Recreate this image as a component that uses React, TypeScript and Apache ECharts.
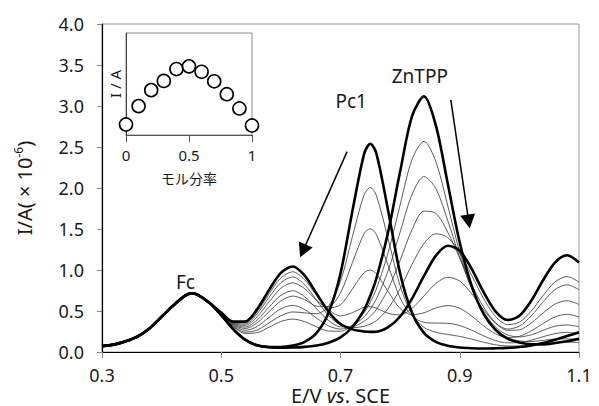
import { useEffect, useRef } from "react";
import * as echarts from "echarts";

// Potential grid (V vs. SCE) shared by every voltammogram
const potential = [
  0.30, 0.32, 0.34, 0.36, 0.38, 0.40, 0.42, 0.44, 0.45, 0.46, 0.48,
  0.50, 0.52, 0.54, 0.56, 0.58, 0.60, 0.62, 0.64, 0.66, 0.68, 0.70,
  0.72, 0.74, 0.75, 0.76, 0.78, 0.80, 0.82, 0.84, 0.86, 0.88, 0.90,
  0.92, 0.94, 0.96, 0.98, 1.00, 1.02, 1.04, 1.06, 1.08, 1.10,
];

// Current (×10^-6 A) for each ZnTPP mole fraction
const zn00 = [0.072, 0.09, 0.13, 0.19, 0.29, 0.43, 0.57, 0.69, 0.715, 0.70, 0.60, 0.45, 0.28, 0.15, 0.083, 0.061, 0.06, 0.078, 0.124, 0.233, 0.478, 0.958, 1.72, 2.425, 2.54, 2.425, 1.72, 0.958, 0.478, 0.233, 0.123, 0.075, 0.055, 0.046, 0.042, 0.045, 0.05, 0.06, 0.08, 0.11, 0.15, 0.195, 0.24];
const zn01 = [0.072, 0.09, 0.13, 0.19, 0.29, 0.43, 0.57, 0.69, 0.715, 0.70, 0.60, 0.463, 0.318, 0.242, 0.267, 0.354, 0.442, 0.489, 0.477, 0.467, 0.56, 0.86, 1.408, 1.925, 2.005, 1.912, 1.376, 0.806, 0.46, 0.30, 0.24, 0.214, 0.19, 0.157, 0.119, 0.088, 0.073, 0.072, 0.083, 0.099, 0.114, 0.12, 0.114];
const zn02 = [0.072, 0.09, 0.13, 0.19, 0.29, 0.43, 0.57, 0.69, 0.715, 0.70, 0.60, 0.469, 0.336, 0.286, 0.354, 0.492, 0.623, 0.682, 0.638, 0.559, 0.555, 0.721, 1.091, 1.45, 1.503, 1.434, 1.053, 0.659, 0.439, 0.362, 0.353, 0.35, 0.323, 0.266, 0.197, 0.139, 0.112, 0.115, 0.144, 0.187, 0.225, 0.24, 0.225];
const zn03 = [0.072, 0.09, 0.13, 0.19, 0.29, 0.43, 0.57, 0.69, 0.715, 0.70, 0.60, 0.474, 0.351, 0.324, 0.429, 0.61, 0.777, 0.844, 0.771, 0.631, 0.538, 0.575, 0.769, 0.971, 0.998, 0.955, 0.737, 0.53, 0.454, 0.478, 0.537, 0.566, 0.533, 0.439, 0.319, 0.222, 0.177, 0.191, 0.258, 0.349, 0.429, 0.46, 0.428];
const zn04 = [0.072, 0.09, 0.13, 0.19, 0.29, 0.43, 0.57, 0.69, 0.715, 0.70, 0.60, 0.478, 0.364, 0.355, 0.489, 0.707, 0.903, 0.978, 0.88, 0.688, 0.517, 0.441, 0.48, 0.546, 0.552, 0.534, 0.472, 0.452, 0.533, 0.684, 0.836, 0.911, 0.865, 0.711, 0.515, 0.352, 0.28, 0.315, 0.441, 0.613, 0.762, 0.82, 0.76];
const zn05 = [0.072, 0.09, 0.13, 0.19, 0.29, 0.43, 0.57, 0.69, 0.715, 0.70, 0.60, 0.48, 0.37, 0.37, 0.52, 0.755, 0.965, 1.043, 0.931, 0.71, 0.49, 0.341, 0.276, 0.25, 0.245, 0.247, 0.303, 0.433, 0.652, 0.927, 1.175, 1.296, 1.235, 1.014, 0.73, 0.495, 0.391, 0.441, 0.626, 0.878, 1.094, 1.18, 1.092];
const zn06 = [0.072, 0.09, 0.13, 0.19, 0.29, 0.43, 0.57, 0.69, 0.715, 0.70, 0.60, 0.476, 0.358, 0.341, 0.463, 0.665, 0.846, 0.915, 0.819, 0.631, 0.446, 0.329, 0.297, 0.314, 0.341, 0.381, 0.531, 0.771, 1.069, 1.323, 1.442, 1.395, 1.209, 0.936, 0.652, 0.433, 0.334, 0.363, 0.50, 0.691, 0.856, 0.92, 0.852];
const zn07 = [0.072, 0.09, 0.13, 0.19, 0.29, 0.43, 0.57, 0.69, 0.715, 0.70, 0.60, 0.471, 0.343, 0.304, 0.389, 0.546, 0.691, 0.747, 0.673, 0.525, 0.385, 0.307, 0.311, 0.376, 0.436, 0.516, 0.767, 1.118, 1.493, 1.718, 1.691, 1.46, 1.143, 0.823, 0.547, 0.355, 0.264, 0.27, 0.354, 0.477, 0.585, 0.625, 0.58];
const zn08 = [0.072, 0.09, 0.13, 0.19, 0.29, 0.43, 0.57, 0.69, 0.715, 0.70, 0.60, 0.466, 0.327, 0.264, 0.31, 0.421, 0.527, 0.569, 0.517, 0.412, 0.318, 0.279, 0.32, 0.432, 0.524, 0.644, 0.994, 1.462, 1.923, 2.139, 1.993, 1.599, 1.154, 0.775, 0.49, 0.304, 0.209, 0.184, 0.21, 0.265, 0.315, 0.33, 0.308];
const zn09 = [0.072, 0.09, 0.13, 0.19, 0.29, 0.43, 0.57, 0.69, 0.715, 0.70, 0.60, 0.461, 0.312, 0.227, 0.235, 0.302, 0.372, 0.401, 0.37, 0.306, 0.256, 0.253, 0.328, 0.484, 0.609, 0.766, 1.213, 1.795, 2.348, 2.569, 2.321, 1.781, 1.215, 0.774, 0.466, 0.281, 0.179, 0.135, 0.128, 0.142, 0.158, 0.16, 0.151];
const zn10 = [0.072, 0.09, 0.13, 0.19, 0.29, 0.43, 0.57, 0.69, 0.715, 0.70, 0.60, 0.45, 0.28, 0.15, 0.081, 0.058, 0.051, 0.054, 0.063, 0.08, 0.114, 0.179, 0.305, 0.52, 0.687, 0.893, 1.466, 2.2, 2.877, 3.117, 2.76, 2.048, 1.334, 0.807, 0.465, 0.271, 0.163, 0.115, 0.094, 0.093, 0.109, 0.13, 0.16];

const thinCurves = [zn01, zn02, zn03, zn04, zn06, zn07, zn08, zn09];
const boldCurves = [zn00, zn05, zn10];

// Job plot (inset)
const moleFraction = [0, 0.1, 0.2, 0.3, 0.4, 0.5, 0.6, 0.7, 0.8, 0.9, 1.0];
const jobCurrent = [0.31, 0.85, 1.32, 1.59, 1.94, 2.02, 1.86, 1.58, 1.2, 0.78, 0.28];

// Peak labels and arrows, in data coordinates
const peakLabels = [
  { name: "Fc", value: [0.44, 0.85] },
  { name: "Pc1", value: [0.718, 3.06] },
  { name: "ZnTPP", value: [0.833, 3.37] },
];
const arrows = [
  [[0.711, 2.443], [0.637, 1.232]],
  [[0.885, 3.075], [0.915, 1.592]],
];

const FONT = "'Noto Sans', 'Open Sans', sans-serif";
const CJK = "'Noto Sans CJK JP', 'Noto Sans', sans-serif";
const INK = "#1a1a1a";

const toPairs = (ys: number[]) => potential.map((e, i) => [e, ys[i]]);

export default function App() {
  const ref = useRef<HTMLDivElement>(null);

  useEffect(() => {
    if (!ref.current) return;
    const chart = echarts.init(ref.current, undefined, { renderer: "svg" });

    const thinSeries = thinCurves.map((ys) => ({
      type: "line",
      xAxisIndex: 0,
      yAxisIndex: 0,
      data: toPairs(ys),
      symbol: "none",
      smooth: 0.3,
      lineStyle: { color: "#333", width: 0.8 },
      z: 2,
      silent: true,
    }));
    const boldSeries = boldCurves.map((ys) => ({
      type: "line",
      xAxisIndex: 0,
      yAxisIndex: 0,
      data: toPairs(ys),
      symbol: "none",
      smooth: 0.3,
      lineStyle: { color: "#000", width: 2.6 },
      z: 3,
      silent: true,
    }));

    chart.setOption({
      animation: false,
      backgroundColor: "#fff",
      grid: [
        {
          left: 102,
          top: 24,
          width: 477,
          height: 328,
          containLabel: false,
          outerBoundsMode: "none",
          show: true,
          borderColor: "#9a9a9a",
          borderWidth: 1,
        },
        {
          left: 126,
          top: 33,
          width: 126,
          height: 102,
          containLabel: false,
          outerBoundsMode: "none",
          show: true,
          borderColor: "#8a8a8a",
          borderWidth: 1,
        },
      ],
      xAxis: [
        {
          type: "value",
          gridIndex: 0,
          min: 0.3,
          max: 1.1,
          interval: 0.2,
          splitLine: { show: false },
          axisLine: { show: true, lineStyle: { color: "#000", width: 1.2 } },
          axisTick: { show: true, length: 6, lineStyle: { color: "#888" } },
          axisLabel: {
            fontSize: 18,
            lineHeight: 18,
            color: INK,
            fontFamily: FONT,
            margin: 14,
            formatter: (v: number) => v.toFixed(1),
          },
          name: "E/V {it|vs}. SCE",
          nameLocation: "middle",
          nameGap: 34,
          nameMoveOverlap: false,
          nameTextStyle: {
            fontSize: 20,
            lineHeight: 19,
            color: INK,
            fontFamily: FONT,
            rich: {
              it: {
                fontSize: 20,
                lineHeight: 19,
                fontStyle: "italic",
                color: INK,
                fontFamily: FONT,
              },
            },
          },
        },
        {
          type: "value",
          gridIndex: 1,
          min: 0,
          max: 1,
          interval: 0.5,
          splitLine: { show: false },
          axisLine: { show: true, lineStyle: { color: "#555", width: 1 } },
          axisTick: { show: true, length: 7, lineStyle: { color: "#555" } },
          axisLabel: {
            fontSize: 15,
            color: INK,
            fontFamily: FONT,
            margin: 12,
            formatter: (v: number) => String(v),
          },
          name: "モル分率",
          nameLocation: "middle",
          nameGap: 36,
          nameMoveOverlap: false,
          nameTextStyle: { fontSize: 14, color: INK, fontFamily: CJK },
        },
      ],
      yAxis: [
        {
          type: "value",
          gridIndex: 0,
          min: 0,
          max: 4,
          interval: 0.5,
          splitLine: { show: false },
          axisLine: { show: true, lineStyle: { color: "#000", width: 1.2 } },
          axisTick: { show: true, length: 5, lineStyle: { color: "#888" } },
          axisLabel: {
            fontSize: 18,
            color: INK,
            fontFamily: FONT,
            margin: 18,
            formatter: (v: number) => v.toFixed(1),
          },
          name: "I/A( × 10{sup|-6})",
          nameLocation: "middle",
          nameGap: 66,
          nameMoveOverlap: false,
          nameRotate: 90,
          nameTextStyle: {
            fontSize: 20,
            color: INK,
            fontFamily: FONT,
            lineHeight: 24,
            rich: {
              sup: { fontSize: 12, verticalAlign: "top", color: INK, fontFamily: FONT },
            },
          },
        },
        {
          type: "value",
          gridIndex: 1,
          min: 0,
          max: 3,
          splitLine: { show: false },
          axisLine: { show: true, lineStyle: { color: "#444", width: 1 } },
          axisTick: { show: false },
          axisLabel: { show: false },
          name: "I / A",
          nameLocation: "middle",
          nameGap: 4,
          nameMoveOverlap: false,
          nameRotate: 90,
          nameTextStyle: { fontSize: 15, color: INK, fontFamily: FONT },
        },
      ],
      series: [
        ...thinSeries,
        ...boldSeries,
        {
          type: "scatter",
          xAxisIndex: 0,
          yAxisIndex: 0,
          data: peakLabels,
          symbolSize: 0,
          itemStyle: { color: "#000", opacity: 1 },
          silent: true,
          z: 6,
          label: {
            show: true,
            position: "inside",
            formatter: "{b}",
            fontSize: 19,
            color: INK,
            opacity: 1,
            fontFamily: FONT,
            textBorderWidth: 0,
          },
          markLine: {
            silent: true,
            symbol: ["none", "triangle"],
            symbolSize: [15, 14],
            label: { show: false },
            lineStyle: { color: "#000", width: 1.5, type: "solid", opacity: 1 },
            itemStyle: { opacity: 1 },
            data: arrows.map(([a, b]) => [{ coord: a }, { coord: b }]),
          },
        },
        {
          type: "scatter",
          xAxisIndex: 1,
          yAxisIndex: 1,
          data: moleFraction.map((m, i) => [m, jobCurrent[i]]),
          symbol: "circle",
          symbolSize: 13,
          itemStyle: { color: "#fff", borderColor: "#000", borderWidth: 1.6, opacity: 1 },
          silent: true,
          z: 7,
        },
      ],
    });

    return () => chart.dispose();
  }, []);

  return (
    <div
      ref={ref}
      style={{ position: "fixed", left: 0, top: 0, width: 599, height: 406, background: "#fff" }}
    />
  );
}
